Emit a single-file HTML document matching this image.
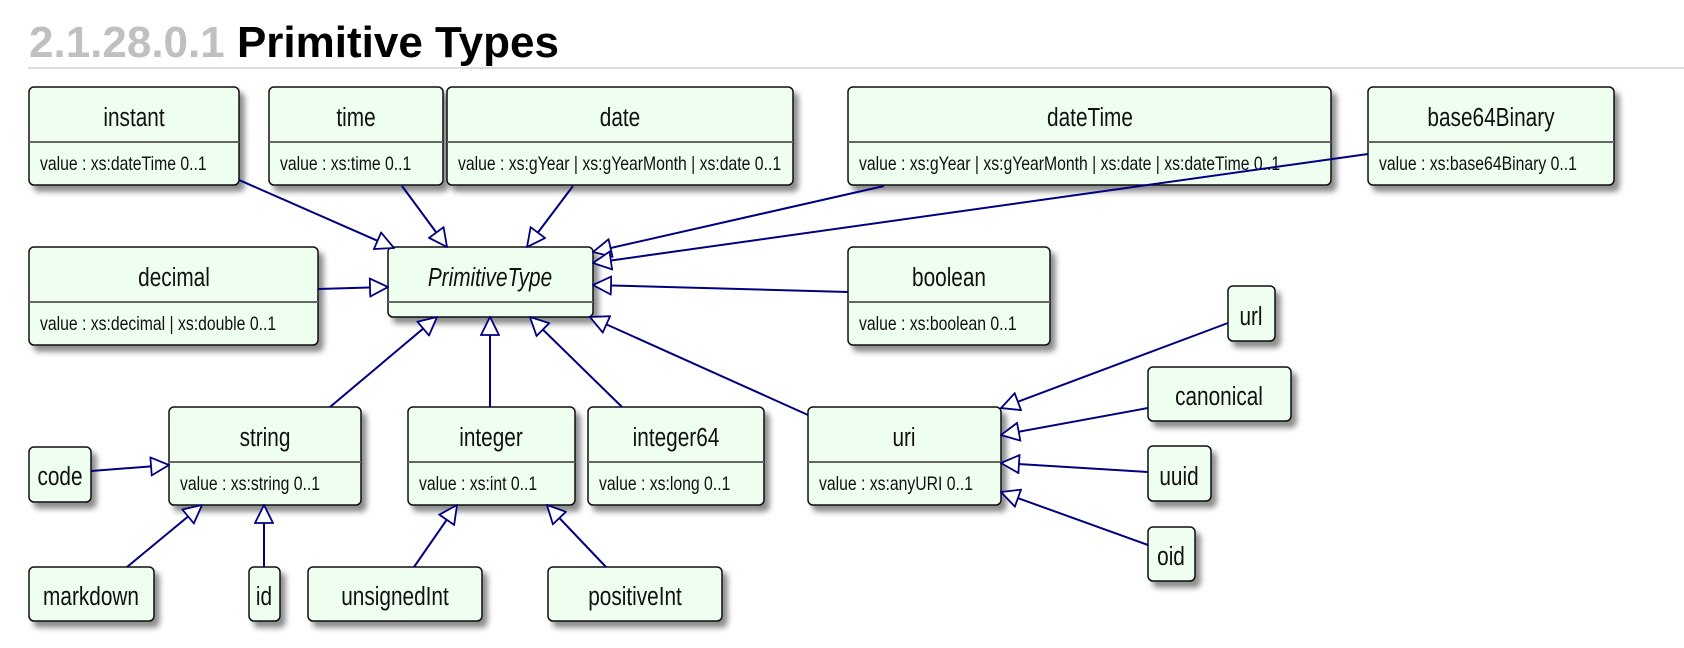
<!DOCTYPE html>
<html><head><meta charset="utf-8"><style>
html,body{margin:0;padding:0;background:#fff;width:1684px;height:648px;overflow:hidden}
svg{display:block}
.t{font-family:"Liberation Sans",sans-serif}
</style></head><body>
<svg width="1684" height="648" viewBox="0 0 1684 648" xmlns="http://www.w3.org/2000/svg">
<defs>
<filter id="sh" x="-10%" y="-10%" width="130%" height="140%">
<feDropShadow dx="5" dy="6" stdDeviation="3" flood-color="#000" flood-opacity="0.45"/>
</filter>
<marker id="ar" viewBox="0 0 20 20" refX="19" refY="10" markerWidth="20" markerHeight="20" markerUnits="userSpaceOnUse" orient="auto">
<path d="M1,1 L19,10 L1,19 Z" fill="#fff" stroke="#000080" stroke-width="1.8"/>
</marker>
</defs>
<text x="29" y="57" class="t" font-size="44" font-weight="bold" fill="#c0c0c0">2.1.28.0.1 <tspan fill="#000">Primitive Types</tspan></text>
<rect x="28" y="67" width="1656" height="2" fill="#ddd"/>

<g class="t" fill="#111">
<g filter="url(#sh)" fill="#efffef" stroke="#111" stroke-width="1.5">
<rect x="29" y="87" width="210" height="98" rx="5"/>
<rect x="269" y="87" width="174" height="98" rx="5"/>
<rect x="447" y="87" width="346" height="98" rx="5"/>
<rect x="848" y="87" width="483" height="98" rx="5"/>
<rect x="1368" y="87" width="246" height="98" rx="5"/>
<rect x="29" y="247" width="289" height="98" rx="5"/>
<rect x="388" y="247" width="205" height="70" rx="5"/>
<rect x="848" y="247" width="202" height="98" rx="5"/>
<rect x="1228" y="286" width="47" height="55" rx="5"/>
<rect x="1148" y="367" width="143" height="54" rx="5"/>
<rect x="1148" y="446" width="63" height="55" rx="5"/>
<rect x="1148" y="527" width="47" height="54" rx="5"/>
<rect x="169" y="407" width="192" height="98" rx="5"/>
<rect x="408" y="407" width="167" height="98" rx="5"/>
<rect x="588" y="407" width="176" height="98" rx="5"/>
<rect x="808" y="407" width="193" height="98" rx="5"/>
<rect x="29" y="447" width="62" height="55" rx="5"/>
<rect x="29" y="567" width="125" height="54" rx="5"/>
<rect x="249" y="567" width="31" height="54" rx="5"/>
<rect x="308" y="567" width="174" height="54" rx="5"/>
<rect x="548" y="567" width="174" height="54" rx="5"/>
</g>
<g stroke="#666" stroke-width="2">
<line x1="29" y1="142" x2="239" y2="142"/>
<line x1="269" y1="142" x2="443" y2="142"/>
<line x1="447" y1="142" x2="793" y2="142"/>
<line x1="848" y1="142" x2="1331" y2="142"/>
<line x1="1368" y1="142" x2="1614" y2="142"/>
<line x1="29" y1="302" x2="318" y2="302"/>
<line x1="388" y1="302" x2="593" y2="302"/>
<line x1="848" y1="302" x2="1050" y2="302"/>
<line x1="169" y1="462" x2="361" y2="462"/>
<line x1="408" y1="462" x2="575" y2="462"/>
<line x1="588" y1="462" x2="764" y2="462"/>
<line x1="808" y1="462" x2="1001" y2="462"/>
</g>
<g font-size="26" text-anchor="middle">
<text transform="translate(134,126) scale(.8,1)">instant</text>
<text transform="translate(356,126) scale(.8,1)">time</text>
<text transform="translate(620,126) scale(.8,1)">date</text>
<text transform="translate(1090,126) scale(.8,1)">dateTime</text>
<text transform="translate(1491,126) scale(.8,1)">base64Binary</text>
<text transform="translate(174,286) scale(.8,1)">decimal</text>
<text transform="translate(490,286) scale(.8,1)" font-style="italic">PrimitiveType</text>
<text transform="translate(949,286) scale(.8,1)">boolean</text>
<text transform="translate(1251,325) scale(.8,1)">url</text>
<text transform="translate(1219,405) scale(.8,1)">canonical</text>
<text transform="translate(1179,485) scale(.8,1)">uuid</text>
<text transform="translate(1171,565) scale(.8,1)">oid</text>
<text transform="translate(265,446) scale(.8,1)">string</text>
<text transform="translate(491,446) scale(.8,1)">integer</text>
<text transform="translate(676,446) scale(.8,1)">integer64</text>
<text transform="translate(904,446) scale(.8,1)">uri</text>
<text transform="translate(60,485) scale(.8,1)">code</text>
<text transform="translate(91,605) scale(.8,1)">markdown</text>
<text transform="translate(264,605) scale(.8,1)">id</text>
<text transform="translate(395,605) scale(.8,1)">unsignedInt</text>
<text transform="translate(635,605) scale(.8,1)">positiveInt</text>
</g>
<g font-size="19">
<text transform="translate(40,170) scale(.83,1)">value : xs:dateTime 0..1</text>
<text transform="translate(280,170) scale(.83,1)">value : xs:time 0..1</text>
<text transform="translate(458,170) scale(.83,1)">value : xs:gYear | xs:gYearMonth | xs:date 0..1</text>
<text transform="translate(859,170) scale(.83,1)">value : xs:gYear | xs:gYearMonth | xs:date | xs:dateTime 0..1</text>
<text transform="translate(1379,170) scale(.83,1)">value : xs:base64Binary 0..1</text>
<text transform="translate(40,330) scale(.83,1)">value : xs:decimal | xs:double 0..1</text>
<text transform="translate(859,330) scale(.83,1)">value : xs:boolean 0..1</text>
<text transform="translate(180,490) scale(.83,1)">value : xs:string 0..1</text>
<text transform="translate(419,490) scale(.83,1)">value : xs:int 0..1</text>
<text transform="translate(599,490) scale(.83,1)">value : xs:long 0..1</text>
<text transform="translate(819,490) scale(.83,1)">value : xs:anyURI 0..1</text>
</g>
</g>

<g stroke="#000080" stroke-width="2" fill="none" marker-end="url(#ar)">
<line x1="239" y1="180" x2="394" y2="248"/>
<line x1="402" y1="186" x2="447" y2="247"/>
<line x1="573" y1="186" x2="527" y2="247"/>
<line x1="884" y1="186" x2="593" y2="252"/>
<line x1="1368" y1="154" x2="593" y2="263"/>
<line x1="848" y1="292" x2="593" y2="285"/>
<line x1="318" y1="289" x2="388" y2="287"/>
<line x1="330" y1="407" x2="437" y2="317"/>
<line x1="490" y1="407" x2="490" y2="317"/>
<line x1="622" y1="407" x2="530" y2="317"/>
<line x1="808" y1="415" x2="590" y2="317"/>
<line x1="91" y1="471" x2="169" y2="465"/>
<line x1="127" y1="567" x2="202" y2="505"/>
<line x1="264" y1="567" x2="264" y2="505"/>
<line x1="414" y1="567" x2="457" y2="505"/>
<line x1="606" y1="567" x2="547" y2="505"/>
<line x1="1228" y1="323" x2="1001" y2="408"/>
<line x1="1148" y1="408" x2="1001" y2="435"/>
<line x1="1148" y1="472" x2="1001" y2="463"/>
<line x1="1148" y1="545" x2="1001" y2="492"/>
</g>
</svg>
</body></html>
